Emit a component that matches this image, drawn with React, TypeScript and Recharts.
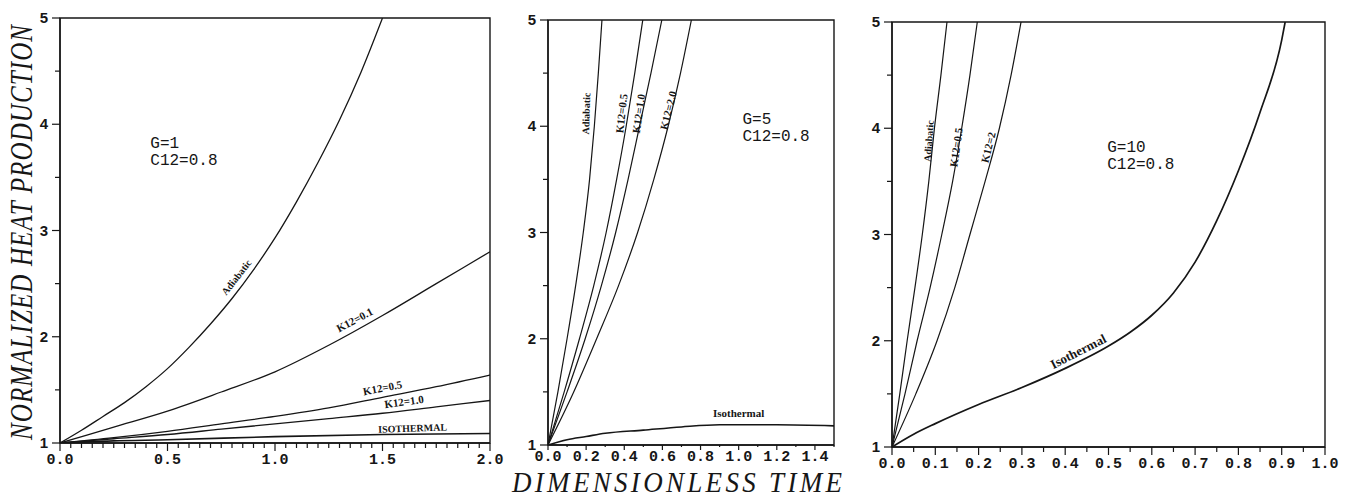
import React from 'react'
import { LineChart, Line, XAxis, YAxis, ReferenceArea, ReferenceDot } from 'recharts'

const INK = '#161616'

// ---- G=1 panel (x 0..2) ----
const g1AdiabaticX = [0, 0.1, 0.2, 0.3, 0.4, 0.5, 0.6, 0.7, 0.8, 0.9, 1.0, 1.1, 1.2, 1.3, 1.4, 1.5]
const g1AdiabaticY = [1, 1.12, 1.25, 1.38, 1.53, 1.7, 1.9, 2.12, 2.36, 2.63, 2.93, 3.27, 3.64, 4.04, 4.49, 5.0]
const g1K01X = [0, 0.25, 0.5, 0.75, 1.0, 1.25, 1.5, 1.75, 2.0]
const g1K01Y = [1, 1.15, 1.3, 1.48, 1.67, 1.92, 2.2, 2.5, 2.8]
const g1K05X = [0, 0.25, 0.5, 0.75, 1.0, 1.25, 1.5, 1.75, 2.0]
const g1K05Y = [1, 1.05, 1.11, 1.18, 1.25, 1.33, 1.43, 1.53, 1.64]
const g1K10X = [0, 0.25, 0.5, 0.75, 1.0, 1.25, 1.5, 1.75, 2.0]
const g1K10Y = [1, 1.04, 1.08, 1.13, 1.18, 1.23, 1.28, 1.34, 1.4]
const g1IsoX = [0, 0.25, 0.5, 1.0, 1.5, 2.0]
const g1IsoY = [1, 1.02, 1.03, 1.06, 1.08, 1.09]

// ---- G=5 panel (x 0..1.5) ----
const g5AdiabaticX = [0, 0.052, 0.1, 0.145, 0.185, 0.218, 0.243, 0.264, 0.283]
const g5AdiabaticY = [1, 1.5, 2.0, 2.5, 3.0, 3.5, 4.0, 4.5, 5.0]
const g5K05X = [0, 0.085, 0.165, 0.24, 0.305, 0.36, 0.41, 0.455, 0.497]
const g5K05Y = [1, 1.5, 2.0, 2.5, 3.0, 3.5, 4.0, 4.5, 5.0]
const g5K10X = [0, 0.1, 0.195, 0.28, 0.355, 0.42, 0.48, 0.54, 0.597]
const g5K10Y = [1, 1.5, 2.0, 2.5, 3.0, 3.5, 4.0, 4.5, 5.0]
const g5K20X = [0, 0.13, 0.255, 0.37, 0.47, 0.555, 0.63, 0.695, 0.752]
const g5K20Y = [1, 1.48, 2.0, 2.5, 3.0, 3.5, 4.0, 4.5, 5.0]
const g5IsoX = [0, 0.1, 0.2, 0.3, 0.5, 0.7, 0.9, 1.2, 1.5]
const g5IsoY = [1, 1.05, 1.08, 1.11, 1.14, 1.17, 1.19, 1.19, 1.18]

// ---- G=10 panel (x 0..1) ----
const g10AdiabaticX = [0, 0.018, 0.035, 0.053, 0.07, 0.085, 0.098, 0.113, 0.127]
const g10AdiabaticY = [1, 1.5, 2.0, 2.5, 3.0, 3.5, 4.0, 4.5, 5.0]
const g10K05X = [0, 0.03, 0.058, 0.088, 0.115, 0.14, 0.161, 0.18, 0.197]
const g10K05Y = [1, 1.5, 2.0, 2.5, 3.0, 3.5, 4.0, 4.5, 5.0]
const g10K2X = [0, 0.055, 0.104, 0.145, 0.18, 0.215, 0.248, 0.275, 0.298]
const g10K2Y = [1, 1.5, 2.0, 2.5, 3.0, 3.5, 4.0, 4.5, 5.0]
const g10IsoX = [0, 0.05, 0.1, 0.2, 0.3, 0.4, 0.5, 0.55, 0.6, 0.65, 0.7, 0.75, 0.8, 0.85, 0.9, 0.908]
const g10IsoY = [1, 1.12, 1.22, 1.4, 1.56, 1.74, 1.95, 2.08, 2.24, 2.45, 2.74, 3.13, 3.6, 4.15, 4.83, 5.0]

// tick labels
const yLabels = [1, 2, 3, 4, 5]
const yTicks = [1, 1.5, 2, 2.5, 3, 3.5, 4, 4.5, 5]
const g1XLabels = [0, 0.5, 1.0, 1.5, 2.0]
const g5XLabels = [0, 0.2, 0.4, 0.6, 0.8, 1.0, 1.2, 1.4]
const g10XLabels = [0, 0.1, 0.2, 0.3, 0.4, 0.5, 0.6, 0.7, 0.8, 0.9, 1.0]

const pts = (xs: number[], ys: number[]) => xs.map((x, i) => ({ x, y: ys[i] }))
const steps = (max: number, step: number) => {
  const out: number[] = []
  for (let i = 0; i * step <= max + 1e-9; i++) out.push(+(i * step).toFixed(3))
  return out
}
const isLabel = (labels: number[], v: number) => labels.some((l) => Math.abs(l - v) < 1e-6)

const XTick = ({ x, y, payload, labels, dy, len }: any) => {
  const major = isLabel(labels, payload.value)
  return (
    <g>
      <line x1={x} x2={x} y1={y} y2={y + (major ? len : len - 3)} stroke={INK} strokeWidth={1.2} />
      {major && (
        <text x={x} y={y + dy} textAnchor="middle" fontFamily="Liberation Mono" fontWeight="bold" fontSize={15} fill={INK}>
          {payload.value.toFixed(1)}
        </text>
      )}
    </g>
  )
}

const YTick = ({ x, y, payload }: any) => {
  const major = isLabel(yLabels, payload.value)
  return (
    <g>
      <line x1={x} x2={x - (major ? 8 : 5)} y1={y} y2={y} stroke={INK} strokeWidth={1.2} />
      {major && (
        <text x={x - 12} y={y + 5} textAnchor="end" fontFamily="Liberation Sans" fontWeight="bold" fontSize={15} fill={INK}>
          {payload.value}
        </text>
      )}
    </g>
  )
}

type CurveLabel = { x: number; y: number; text: string; angle: number; size: number }

const curveText = (l: CurveLabel) => (p: any) => (
  <text
    x={p.cx}
    y={p.cy}
    transform={`rotate(${l.angle} ${p.cx} ${p.cy})`}
    textAnchor="middle"
    dominantBaseline="central"
    fontFamily="Liberation Serif"
    fontWeight="bold"
    fontSize={l.size}
    fill={INK}
  >
    {l.text}
  </text>
)

const paramText = (lines: string[]) => (p: any) => (
  <text x={p.cx} y={p.cy} fontFamily="Liberation Mono" fontSize={16} fill={INK}>
    {lines.map((s, i) => (
      <tspan key={s} x={p.cx} dy={i === 0 ? 0 : 17}>
        {s}
      </tspan>
    ))}
  </text>
)

type PanelProps = {
  left: number
  width: number
  top: number
  right: number
  yAxisWidth: number
  xAxisHeight: number
  xMax: number
  xStep: number
  xLabels: number[]
  labelDy: number
  tickLen: number
  curves: { data: { x: number; y: number }[]; width: number }[]
  labels: CurveLabel[]
  params: { x: number; y: number; lines: string[] }
}

function Panel(p: PanelProps) {
  return (
    <div style={{ position: 'absolute', left: p.left, top: 0 }}>
      <LineChart width={p.width} height={498} margin={{ top: p.top, right: p.right, left: 0, bottom: 0 }}>
        <XAxis
          type="number"
          dataKey="x"
          domain={[0, p.xMax]}
          ticks={steps(p.xMax, p.xStep)}
          allowDataOverflow
          height={p.xAxisHeight}
          tickSize={0}
          tickMargin={0}
          tickLine={false}
          interval={0}
          axisLine={{ stroke: INK, strokeWidth: 1.4 }}
          tick={(t: any) => <XTick {...t} labels={p.xLabels} dy={p.labelDy} len={p.tickLen} />}
        />
        <YAxis
          type="number"
          dataKey="y"
          domain={[1, 5]}
          ticks={yTicks}
          allowDataOverflow
          width={p.yAxisWidth}
          tickSize={0}
          tickMargin={0}
          tickLine={false}
          interval={0}
          axisLine={{ stroke: INK, strokeWidth: 1.4 }}
          tick={(t: any) => <YTick {...t} />}
        />
        <ReferenceArea x1={0} x2={p.xMax} y1={1} y2={5} fill="none" stroke={INK} strokeWidth={1.4} ifOverflow="visible" />
        {p.curves.map((c, i) => (
          <Line
            key={i}
            data={c.data}
            dataKey="y"
            type="monotone"
            dot={false}
            activeDot={false}
            stroke={INK}
            strokeWidth={c.width}
            isAnimationActive={false}
          />
        ))}
        {p.labels.map((l, i) => (
          <ReferenceDot key={`l${i}`} x={l.x} y={l.y} r={0} ifOverflow="visible" shape={curveText(l)} />
        ))}
        <ReferenceDot x={p.params.x} y={p.params.y} r={0} ifOverflow="visible" shape={paramText(p.params.lines)} />
      </LineChart>
    </div>
  )
}

export default function App() {
  return (
    <div style={{ position: 'absolute', left: 0, top: 0, width: 1346, height: 498, background: '#fff', overflow: 'hidden' }}>
      <Panel
        left={0}
        width={520}
        top={18}
        right={30}
        yAxisWidth={60}
        xAxisHeight={55}
        xMax={2}
        xStep={0.05}
        xLabels={g1XLabels}
        labelDy={21}
        tickLen={8}
        curves={[
          { data: pts(g1AdiabaticX, g1AdiabaticY), width: 1.3 },
          { data: pts(g1K01X, g1K01Y), width: 1.3 },
          { data: pts(g1K05X, g1K05Y), width: 1.3 },
          { data: pts(g1K10X, g1K10Y), width: 1.3 },
          { data: pts(g1IsoX, g1IsoY), width: 1.6 },
        ]}
        labels={[
          { x: 0.82, y: 2.56, text: 'Adiabatic', angle: -52, size: 10 },
          { x: 1.37, y: 2.16, text: 'K12=0.1', angle: -28, size: 11 },
          { x: 1.5, y: 1.52, text: 'K12=0.5', angle: -11, size: 11 },
          { x: 1.6, y: 1.39, text: 'K12=1.0', angle: -8, size: 11 },
          { x: 1.64, y: 1.14, text: 'ISOTHERMAL', angle: -2, size: 10 },
        ]}
        params={{ x: 0.42, y: 3.78, lines: ['G=1', 'C12=0.8'] }}
      />
      <Panel
        left={500}
        width={365}
        top={20}
        right={31}
        yAxisWidth={48}
        xAxisHeight={53}
        xMax={1.5}
        xStep={0.1}
        xLabels={g5XLabels}
        labelDy={16}
        tickLen={5}
        curves={[
          { data: pts(g5AdiabaticX, g5AdiabaticY), width: 1.2 },
          { data: pts(g5K05X, g5K05Y), width: 1.2 },
          { data: pts(g5K10X, g5K10Y), width: 1.2 },
          { data: pts(g5K20X, g5K20Y), width: 1.2 },
          { data: pts(g5IsoX, g5IsoY), width: 1.6 },
        ]}
        labels={[
          { x: 0.2, y: 4.12, text: 'Adiabatic', angle: -88, size: 10 },
          { x: 0.385, y: 4.12, text: 'K12=0.5', angle: -84, size: 11 },
          { x: 0.475, y: 4.12, text: 'K12=1.0', angle: -82, size: 11 },
          { x: 0.63, y: 4.15, text: 'K12=2.0', angle: -76, size: 11 },
          { x: 1.0, y: 1.3, text: 'Isothermal', angle: 0, size: 11 },
        ]}
        params={{ x: 1.02, y: 4.02, lines: ['G=5', 'C12=0.8'] }}
      />
      <Panel
        left={845}
        width={501}
        top={22}
        right={21}
        yAxisWidth={47}
        xAxisHeight={51}
        xMax={1}
        xStep={0.05}
        xLabels={g10XLabels}
        labelDy={21}
        tickLen={8}
        curves={[
          { data: pts(g10AdiabaticX, g10AdiabaticY), width: 1.2 },
          { data: pts(g10K05X, g10K05Y), width: 1.2 },
          { data: pts(g10K2X, g10K2Y), width: 1.2 },
          { data: pts(g10IsoX, g10IsoY), width: 1.7 },
        ]}
        labels={[
          { x: 0.085, y: 3.88, text: 'Adiabatic', angle: -86, size: 10 },
          { x: 0.148, y: 3.82, text: 'K12=0.5', angle: -82, size: 11 },
          { x: 0.222, y: 3.82, text: 'K12=2', angle: -76, size: 11 },
          { x: 0.43, y: 1.9, text: 'Isothermal', angle: -27, size: 13 },
        ]}
        params={{ x: 0.497, y: 3.78, lines: ['G=10', 'C12=0.8'] }}
      />
      <svg width={1346} height={498} style={{ position: 'absolute', left: 0, top: 0, pointerEvents: 'none' }}>
        <g transform="translate(32 440) rotate(-90) scale(1 1.25)">
          <text
            x={0}
            y={0}
            fontFamily="Liberation Serif"
            fontStyle="italic"
            fontSize={25}
            fill={INK}
            textLength={415}
            lengthAdjust="spacing"
          >
            NORMALIZED HEAT PRODUCTION
          </text>
        </g>
        <g transform="translate(512 492) scale(1 1.1)">
          <text
            x={0}
            y={0}
            fontFamily="Liberation Serif"
            fontStyle="italic"
            fontSize={27}
            fill={INK}
            textLength={330}
            lengthAdjust="spacing"
          >
            DIMENSIONLESS TIME
          </text>
        </g>
      </svg>
    </div>
  )
}
